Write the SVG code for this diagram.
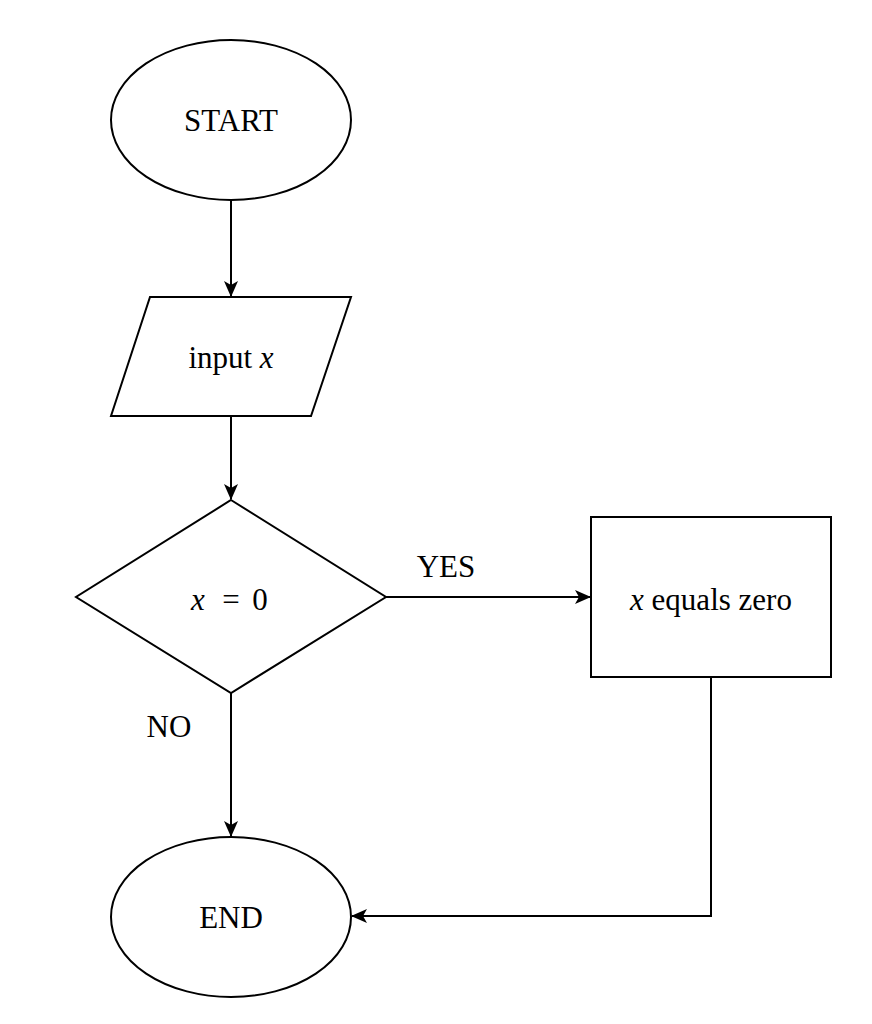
<svg xmlns="http://www.w3.org/2000/svg" width="872" height="1024" viewBox="0 0 872 1024">
<style>
.s{fill:#fff;stroke:#000;stroke-width:2}
.c{fill:none;stroke:#000;stroke-width:2}
.t{font-family:"Liberation Serif","Times New Roman",serif;font-size:31px;fill:#000;text-anchor:middle}
.i{font-style:italic}
</style>
<defs>
<marker id="ah" viewBox="0 0 16 14" refX="15" refY="7" markerWidth="16" markerHeight="14" markerUnits="userSpaceOnUse" orient="auto">
<path d="M0,0 L16,7 L0,14 L4,7 z" fill="#000"/>
</marker>
</defs>
<rect width="872" height="1024" fill="#fff"/>
<g id="connectors">
<path class="c" d="M231,200 V296" marker-end="url(#ah)"/>
<path class="c" d="M231,416 V499" marker-end="url(#ah)"/>
<path class="c" d="M386,597 H590" marker-end="url(#ah)"/>
<path class="c" d="M231,693 V836" marker-end="url(#ah)"/>
<path class="c" d="M711,677 V916 H352" marker-end="url(#ah)"/>
</g>
<g id="start">
<ellipse class="s" cx="231" cy="120" rx="120" ry="80"/>
<text class="t" x="231" y="131">START</text>
</g>
<g id="input">
<polygon class="s" points="150,297 351,297 311,416 111,416"/>
<text class="t" x="231" y="368">input <tspan class="i">x</tspan></text>
</g>
<g id="decision">
<polygon class="s" points="231,500 386,597 231,693 76,597"/>
<text class="t" x="198" y="610"><tspan class="i">x</tspan></text>
<text class="t" x="231" y="610">=</text>
<text class="t" x="260" y="610">0</text>
</g>
<g id="equals">
<rect class="s" x="591" y="517" width="240" height="160"/>
<text class="t" x="711" y="610"><tspan class="i">x</tspan> equals zero</text>
</g>
<g id="end">
<ellipse class="s" cx="231" cy="917" rx="120" ry="80"/>
<text class="t" x="231" y="928">END</text>
</g>
<g id="labels">
<text class="t" x="446" y="577">YES</text>
<text class="t" x="169" y="737">NO</text>
</g>
</svg>
